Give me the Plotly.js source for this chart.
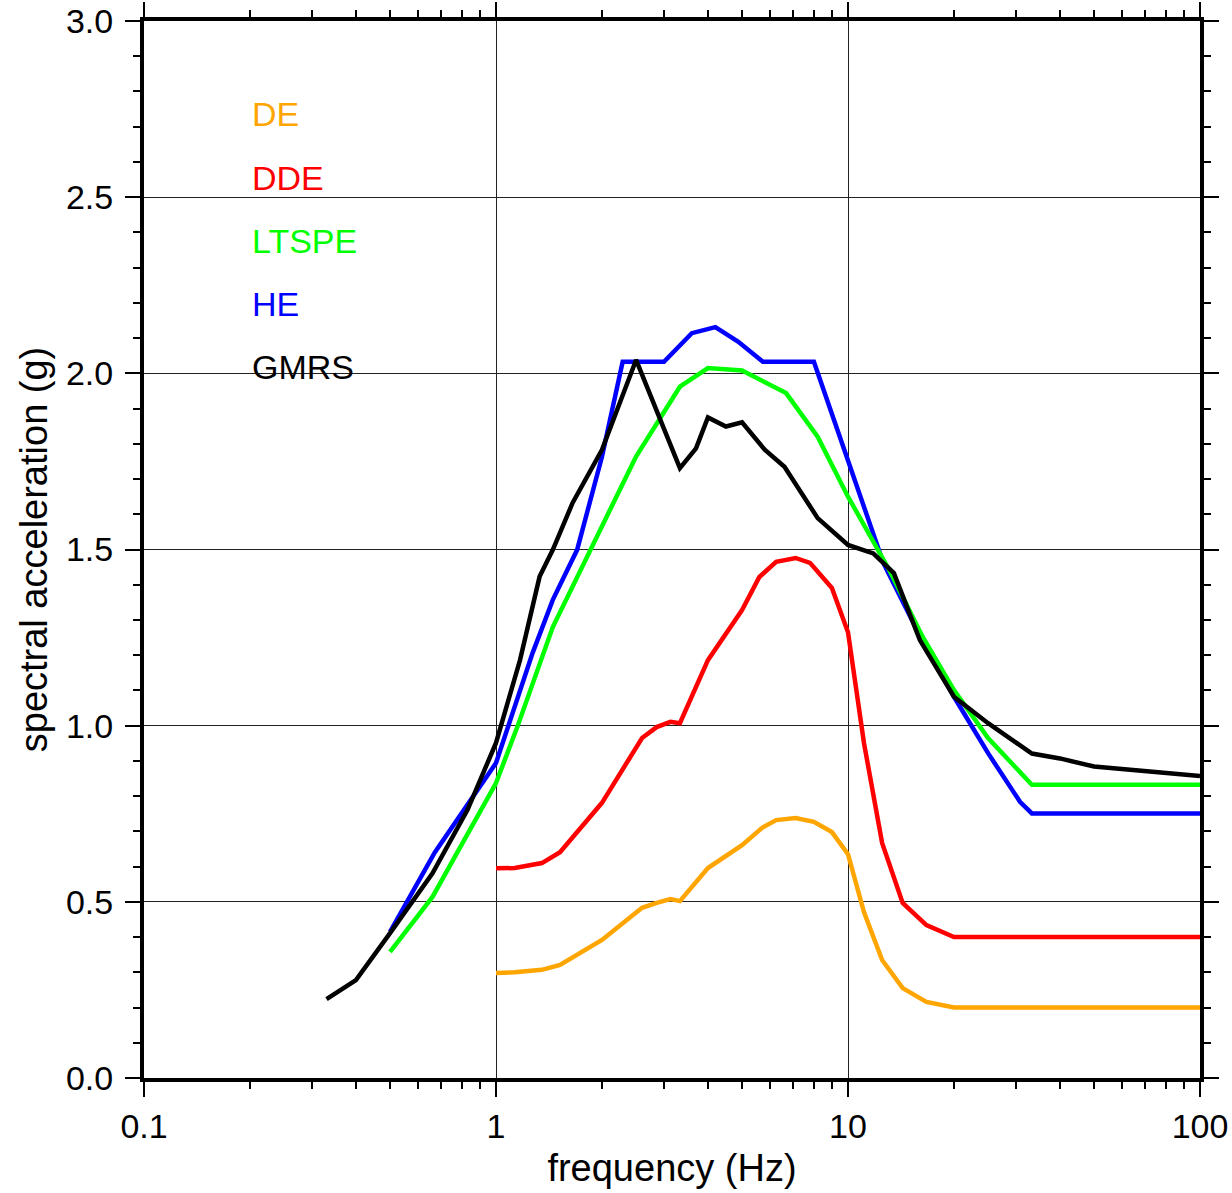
<!DOCTYPE html>
<html>
<head>
<meta charset="utf-8">
<script src="https://cdn.plot.ly/plotly-3.0.1.min.js"></script>
<style>
  html, body { margin: 0; padding: 0; background: #fff; }
  #chart { width: 1232px; height: 1193px; }
</style>
</head>
<body>
<div id="chart"></div>
<script>
// ---- data ----
const deFreq  = [1.0, 1.13, 1.35, 1.52, 2.0, 2.6, 2.86, 3.13, 3.33, 4.0, 5.0, 5.7, 6.25, 7.1, 8.0, 9.0, 10.0, 11.1, 12.5, 14.3, 16.7, 20, 100];
const deSa    = [0.298, 0.300, 0.307, 0.321, 0.392, 0.483, 0.497, 0.508, 0.502, 0.596, 0.661, 0.710, 0.732, 0.738, 0.727, 0.698, 0.635, 0.471, 0.335, 0.255, 0.216, 0.200, 0.200];

const ddeFreq = [1.0, 1.13, 1.35, 1.52, 2.0, 2.6, 2.86, 3.13, 3.33, 4.0, 5.0, 5.6, 6.25, 7.1, 7.8, 9.0, 10.0, 11.1, 12.5, 14.3, 16.7, 20, 100];
const ddeSa   = [0.595, 0.596, 0.610, 0.641, 0.781, 0.965, 0.996, 1.011, 1.007, 1.186, 1.328, 1.422, 1.465, 1.476, 1.462, 1.391, 1.265, 0.951, 0.667, 0.497, 0.434, 0.400, 0.400];

const ltspeFreq = [0.5, 0.66, 1.0, 1.15, 1.45, 2.0, 2.5, 3.33, 4.0, 5.0, 6.67, 8.2, 10.0, 13.1, 16.3, 20, 25, 33.3, 100];
const ltspeSa   = [0.358, 0.514, 0.837, 0.997, 1.280, 1.564, 1.764, 1.962, 2.015, 2.008, 1.944, 1.820, 1.650, 1.442, 1.252, 1.101, 0.965, 0.832, 0.832];

const heFreq = [0.5, 0.67, 1.0, 1.27, 1.45, 1.7, 2.0, 2.29, 3.0, 3.6, 4.2, 4.87, 5.73, 8.0, 12.6, 15.7, 20, 25, 30.8, 33.3, 100];
const heSa   = [0.415, 0.640, 0.894, 1.206, 1.357, 1.499, 1.763, 2.033, 2.033, 2.114, 2.131, 2.090, 2.033, 2.033, 1.462, 1.272, 1.082, 0.922, 0.784, 0.751, 0.751];

const gmrsFreq = [0.33, 0.4, 0.5, 0.66, 0.83, 1.0, 1.17, 1.33, 1.45, 1.65, 2.0, 2.5, 3.33, 3.7, 4.0, 4.5, 5.0, 5.8, 6.6, 8.2, 10.0, 11.8, 13.5, 16.0, 20, 25, 33.3, 40, 50, 100];
const gmrsSa   = [0.224, 0.278, 0.411, 0.581, 0.761, 0.951, 1.186, 1.423, 1.499, 1.632, 1.783, 2.038, 1.731, 1.787, 1.875, 1.849, 1.861, 1.783, 1.735, 1.589, 1.513, 1.489, 1.433, 1.243, 1.082, 1.007, 0.921, 0.907, 0.884, 0.857];

const seriesNames  = ['DE', 'DDE', 'LTSPE', 'HE', 'GMRS'];
const seriesColors = ['#FFA500', '#FF0000', '#00FF00', '#0000FF', '#000000'];
const labelY       = [2.735, 2.555, 2.376, 2.197, 2.017];

// ---- chart ----
const FONT = 'Liberation Sans, Arial, Helvetica, sans-serif';
const allX = [deFreq, ddeFreq, ltspeFreq, heFreq, gmrsFreq];
const allY = [deSa, ddeSa, ltspeSa, heSa, gmrsSa];

// draw order: HE, LTSPE, DDE, DE, then GMRS on top
const order = [3, 2, 1, 0, 4];
const traces = order.map(i => ({
  x: allX[i], y: allY[i], name: seriesNames[i],
  type: 'scatter', mode: 'lines',
  line: { color: seriesColors[i], width: 4.5 },
  showlegend: false, hoverinfo: 'skip'
}));

const annotations = seriesNames.map((n, i) => ({
  x: Math.log10(0.2), y: labelY[i], xref: 'x', yref: 'y',
  text: n, showarrow: false, xanchor: 'left', yanchor: 'middle',
  font: { family: FONT, size: 34, color: seriesColors[i] }
}));

const layout = {
  width: 1232, height: 1193,
  margin: { l: 144, r: 32, t: 21, b: 115 },
  paper_bgcolor: '#fff', plot_bgcolor: '#fff',
  font: { family: FONT, size: 34, color: '#000' },
  showlegend: false,
  xaxis: {
    type: 'log', range: [-1, 2], autorange: false,
    dtick: 1, ticks: 'outside', ticklen: 15, tickwidth: 2, tickcolor: '#000',
    showline: true, linewidth: 4, linecolor: '#000', mirror: 'ticks',
    showgrid: true, gridcolor: '#222', gridwidth: 1, zeroline: false,
    minor: { dtick: 'D1', ticks: 'outside', ticklen: 7, tickwidth: 2, tickcolor: '#000', showgrid: false },
    tickfont: { family: FONT, size: 34, color: '#000' },
    title: { text: 'frequency (Hz)', font: { family: FONT, size: 38, color: '#000' }, standoff: 12 }
  },
  yaxis: {
    range: [0, 3], autorange: false,
    dtick: 0.5, tick0: 0, tickformat: '.1f',
    ticks: 'outside', ticklen: 15, tickwidth: 2, tickcolor: '#000',
    ticklabelstandoff: 5,
    showline: true, linewidth: 4, linecolor: '#000', mirror: 'ticks',
    showgrid: true, gridcolor: '#222', gridwidth: 1, zeroline: false,
    minor: { dtick: 0.1, ticks: 'outside', ticklen: 7, tickwidth: 2, tickcolor: '#000', showgrid: false },
    tickfont: { family: FONT, size: 34, color: '#000' },
    title: { text: 'spectral acceleration (g)', font: { family: FONT, size: 38, color: '#000' }, standoff: 8 }
  },
  annotations: annotations
};

Plotly.newPlot('chart', traces, layout, { staticPlot: true, displayModeBar: false });
</script>
</body>
</html>
